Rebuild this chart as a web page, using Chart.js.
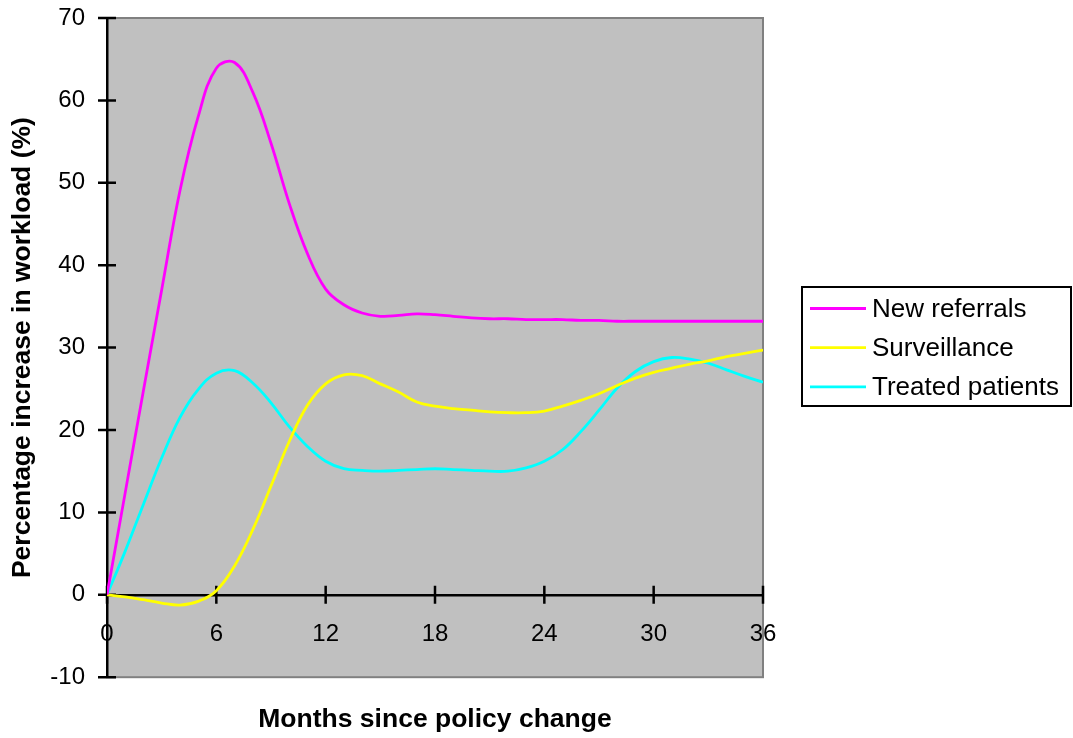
<!DOCTYPE html>
<html>
<head>
<meta charset="utf-8">
<script src="https://cdn.jsdelivr.net/npm/chart.js@4/dist/chart.umd.min.js"></script>
<style>
  body { margin: 0; background: #fff; }
  #wrap { width: 1073px; height: 738px; }
</style>
</head>
<body>
<div id="wrap"><canvas id="workloadChart" width="1073" height="738"></canvas></div>
<script>
// months after the policy change
var months = [0, 1, 2, 3, 4, 5, 6, 7, 8, 9, 10, 11, 12, 13, 14, 15, 16, 17, 18,
              19, 20, 21, 22, 23, 24, 25, 26, 27, 28, 29, 30, 31, 32, 33, 34, 35, 36];

// % increase in workload
var newReferrals = [0, 12.4, 24.8, 37.0, 49.0, 58.0, 63.9, 64.6, 61.0, 54.8, 47.5, 41.4, 37.1, 35.2, 34.2, 33.8, 33.9, 34.1, 34.0,
                    33.8, 33.6, 33.5, 33.5, 33.4, 33.4, 33.4, 33.3, 33.3, 33.2, 33.2, 33.2, 33.2, 33.2, 33.2, 33.2, 33.2, 33.2];
var surveillance = [0, -0.25, -0.6, -1.0, -1.25, -0.8, 0.5, 3.5, 7.9, 13.2, 18.6, 23.0, 25.6, 26.7, 26.6, 25.6, 24.6, 23.4, 22.9,
                    22.6, 22.4, 22.2, 22.1, 22.1, 22.3, 22.9, 23.6, 24.4, 25.4, 26.3, 27.0, 27.5, 28.0, 28.4, 28.9, 29.3, 29.7];
var treatedPatients = [0, 5.3, 11.0, 16.6, 21.5, 24.9, 26.9, 27.2, 25.7, 23.3, 20.4, 18.0, 16.2, 15.3, 15.1, 15.0, 15.1, 15.2, 15.3,
                       15.2, 15.1, 15.0, 15.0, 15.4, 16.2, 17.6, 19.8, 22.4, 25.1, 27.1, 28.3, 28.8, 28.6, 28.1, 27.3, 26.5, 25.8];

var seriesNames = ["New referrals", "Surveillance", "Treated patients"];
var seriesColors = ["#ff00ff", "#ffff00", "#00ffff"];

var FONT = "'Liberation Sans', Arial, Helvetica, sans-serif";

function toPoints(vals) {
  return months.map(function (m, i) { return { x: m, y: vals[i] }; });
}

// grey plot area with a dark grey frame
var plotBackground = {
  id: 'plotBackground',
  beforeDraw: function (chart) {
    var a = chart.chartArea, ctx = chart.ctx;
    ctx.save();
    ctx.fillStyle = '#c0c0c0';
    ctx.fillRect(a.left, a.top, a.right - a.left, a.bottom - a.top);
    ctx.strokeStyle = '#808080';
    ctx.lineWidth = 2;
    ctx.strokeRect(a.left, a.top, a.right - a.left, a.bottom - a.top);
    ctx.restore();
  }
};

// tick marks that cross the axis lines
var crossTicks = {
  id: 'crossTicks',
  beforeDatasetsDraw: function (chart) {
    var ctx = chart.ctx, xs = chart.scales.x, ys = chart.scales.y;
    var x0 = ys.left + ys.width, y0 = ys.getPixelForValue(0);
    ctx.save();
    ctx.strokeStyle = '#000';
    ctx.lineWidth = 2.5;
    ctx.beginPath();
    xs.ticks.forEach(function (t) {
      var px = xs.getPixelForValue(t.value);
      ctx.moveTo(px, y0 - 9);
      ctx.lineTo(px, y0 + 9);
    });
    ys.ticks.forEach(function (t) {
      var py = ys.getPixelForValue(t.value);
      ctx.moveTo(x0 - 9, py);
      ctx.lineTo(x0 + 9, py);
    });
    ctx.stroke();
    ctx.restore();
  }
};

// boxed legend on the right
var boxedLegend = {
  id: 'boxedLegend',
  afterDraw: function (chart) {
    var ctx = chart.ctx;
    ctx.save();
    ctx.fillStyle = '#fff';
    ctx.fillRect(802, 287, 269, 119);
    ctx.strokeStyle = '#000';
    ctx.lineWidth = 2;
    ctx.strokeRect(802, 287, 269, 119);
    ctx.font = '26px ' + FONT;
    ctx.textBaseline = 'middle';
    ctx.fillStyle = '#000';
    chart.data.datasets.forEach(function (ds, i) {
      var y = 308.5 + i * 39.2;
      ctx.strokeStyle = ds.borderColor;
      ctx.lineWidth = 2.8;
      ctx.beginPath();
      ctx.moveTo(810, y);
      ctx.lineTo(866, y);
      ctx.stroke();
      ctx.fillText(ds.label, 872, y + 1);
    });
    ctx.restore();
  }
};

new Chart(document.getElementById('workloadChart'), {
  type: 'line',
  data: {
    datasets: [
      { label: seriesNames[0], data: toPoints(newReferrals), borderColor: seriesColors[0], backgroundColor: seriesColors[0] },
      { label: seriesNames[1], data: toPoints(surveillance), borderColor: seriesColors[1], backgroundColor: seriesColors[1] },
      { label: seriesNames[2], data: toPoints(treatedPatients), borderColor: seriesColors[2], backgroundColor: seriesColors[2] }
    ]
  },
  options: {
    responsive: false,
    animation: false,
    devicePixelRatio: 1,
    layout: { padding: { left: 0, top: 18, right: 310, bottom: 0 } },
    elements: {
      line: { borderWidth: 2.8, tension: 0.4, fill: false },
      point: { radius: 0 }
    },
    plugins: {
      legend: { display: false },
      tooltip: { enabled: false },
      title: {
        display: true,
        text: 'Months since policy change',
        position: 'bottom',
        fullSize: false,
        color: '#000',
        font: { family: FONT, size: 26.5, weight: 'bold', lineHeight: 1.2 },
        padding: { top: 27, bottom: 2 }
      }
    },
    scales: {
      x: {
        type: 'linear',
        position: { y: 0 },
        min: 0,
        max: 36,
        ticks: { stepSize: 6, color: '#000', padding: 25, maxRotation: 0, font: { family: FONT, size: 24 } },
        grid: { drawOnChartArea: false, drawTicks: false },
        border: { color: '#000', width: 2.5 }
      },
      y: {
        min: -10,
        max: 70,
        ticks: { stepSize: 10, color: '#000', padding: 22, font: { family: FONT, size: 24 } },
        grid: { drawOnChartArea: false, drawTicks: false },
        border: { color: '#000', width: 2.5 },
        title: {
          display: true,
          text: 'Percentage increase in workload (%)',
          color: '#000',
          font: { family: FONT, size: 26.5, weight: 'bold', lineHeight: 1.2 },
          padding: { top: 7, bottom: 0 }
        },
        afterFit: function (scale) {
          scale.width = 107;
          // the tick padding should not push the plot down
          scale.paddingTop = 0;
          scale.paddingBottom = 0;
        }
      }
    }
  },
  plugins: [plotBackground, crossTicks, boxedLegend]
});
</script>
</body>
</html>
